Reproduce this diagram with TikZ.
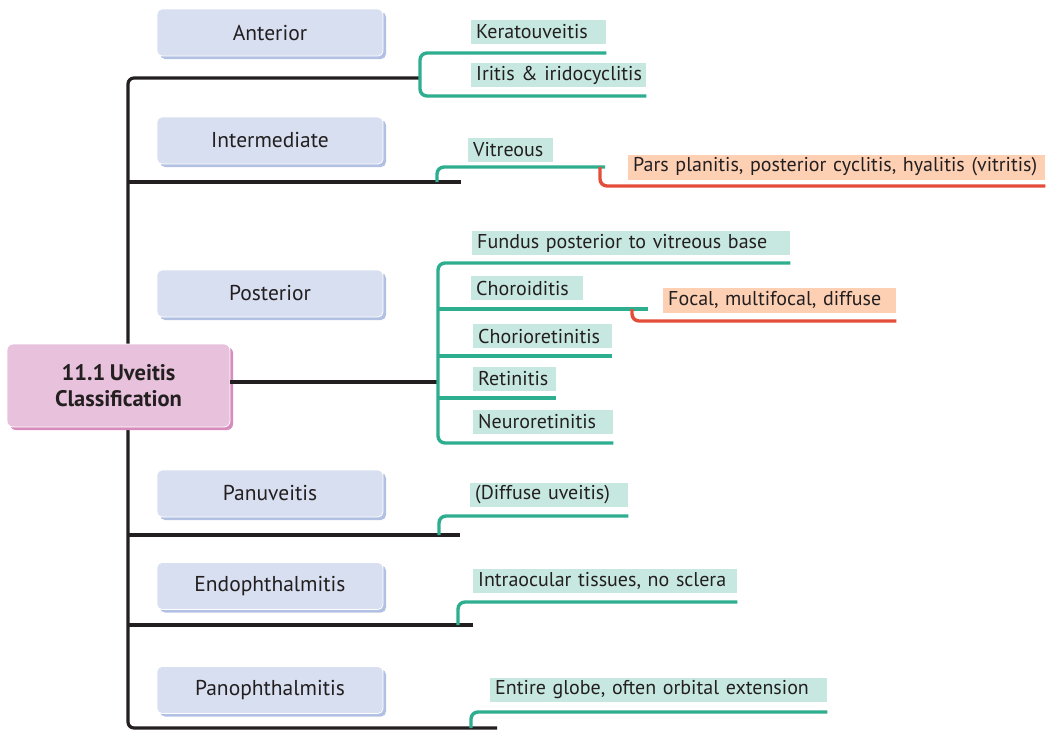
\documentclass[tikz,border=0pt]{standalone}
\usepackage{fontspec}
\setmainfont[WordSpace=0.8]{PT Sans}
\usetikzlibrary{shadows,calc}
\definecolor{ink}{HTML}{231F20}
\definecolor{teal}{HTML}{2DAE8E}
\definecolor{labfill}{HTML}{C7E8E0}
\definecolor{redl}{HTML}{E44D3A}
\definecolor{peach}{HTML}{FDD0B4}
\definecolor{catfill}{HTML}{D7DFF0}
\definecolor{catshadow}{HTML}{B2C1E3}
\definecolor{mainfill}{HTML}{E8C2DC}
\definecolor{mainshadow}{HTML}{D98BBD}
\tikzset{
  txt/.style={font=\fontsize{20}{23}\selectfont, text=ink},
  catbox/.style={font=\fontsize{21.5}{24}\selectfont, text=ink, rounded corners=5pt, fill=catfill, draw=white, line width=0.8pt,
    minimum width=226pt, minimum height=47pt, inner sep=0pt,
    general shadow={fill=catshadow, draw=none, shadow xshift=3pt, shadow yshift=-3pt}},
  mainbox/.style={text=ink, font=\fontsize{22.5}{26}\selectfont\bfseries, rounded corners=6pt, fill=mainfill, draw=white, line width=0.8pt,
    minimum width=223pt, minimum height=83pt, inner sep=0pt, align=center,
    general shadow={fill=mainshadow, draw=none, shadow xshift=3pt, shadow yshift=-3pt}},
  lab/.style={txt, fill=labfill, inner xsep=5pt, inner ysep=0pt, minimum height=24pt,
    anchor=west, align=left, text width=#1},
  sub/.style={txt, fill=peach, inner xsep=5pt, inner ysep=0pt, minimum height=25pt,
    anchor=west, align=left, text width=#1},
  blk/.style={draw=ink, line width=3.2pt, rounded corners=6pt},
  tl/.style={draw=teal, line width=3.4pt, rounded corners=7pt},
  rl/.style={draw=redl, line width=3.4pt, rounded corners=7pt},
}
\begin{document}
\begin{tikzpicture}[x=1pt,y=-1pt]
\useasboundingbox (0,0) rectangle (1051,731);

% category boxes
\node[catbox] (ant) at (270,32.5) {Anterior};
\node[catbox] (int) at (270,140.5) {Intermediate};
\node[catbox] (pos) at (270,293.5) {Posterior};
\node[catbox] (pan) at (270,493.5) {Panuveitis};
\node[catbox] (endo) at (270,586) {Endophthalmitis};
\node[catbox] (pano) at (270,690) {Panophthalmitis};

% labels
\node[lab=125pt] (ker) at (471,31.5) {\mbox{Keratouveitis}};
\node[lab=165pt] (iri) at (471,75) {\mbox{Iritis \& iridocyclitis}};
\node[lab=75pt] (vit) at (468,149.5) {\mbox{Vitreous}};
\node[sub=407pt] (par) at (628,167) {\mbox{Pars planitis, posterior cyclitis, hyalitis (vitritis)}};
\node[lab=308pt] (fun) at (472,243) {\mbox{Fundus posterior to vitreous base}};
\node[lab=102pt] (cho) at (471,288) {\mbox{Choroiditis}};
\node[sub=223pt] (foc) at (663,300) {\mbox{Focal, multifocal, diffuse}};
\node[lab=129pt] (chr) at (473,336) {\mbox{Chorioretinitis}};
\node[lab=73pt] (ret) at (473,379) {\mbox{Retinitis}};
\node[lab=130pt] (neu) at (473,422) {\mbox{Neuroretinitis}};
\node[lab=148pt] (dif) at (470,495) {\mbox{(Diffuse uveitis)}};
\node[lab=254pt] (intra) at (473,581) {\mbox{Intraocular tissues, no sclera}};
\node[lab=327pt] (ent) at (490,689.5) {\mbox{Entire globe, often orbital extension}};

% bracket coordinates
\coordinate (spT) at (128,78);
\coordinate (spB) at (128,728);
\coordinate (aJ) at (420,78);
\coordinate (bEnd) at (497,728);
\coordinate (iEnd) at (461,182);
\coordinate (pJ) at (438,382);
\coordinate (paEnd) at (460,535);
\coordinate (enEnd) at (473,625);

% main spine
\draw[blk] (aJ) -- (spT) -- (spB) -- (bEnd);
\draw[blk] (spT |- iEnd) -- (iEnd);
\draw[blk] (spT |- paEnd) -- (paEnd);
\draw[blk] (spT |- enEnd) -- (enEnd);

% main node
\node[mainbox] (main) at (118.5,385.5) {11.1 Uveitis\\Classification};
\draw[blk] (main.east |- pJ) -- (pJ);

% anterior bracket
\draw[tl] (ker.east |- 0,53) -- (420,53) -- (420,96) -- (iri.east |- 0,96);
% intermediate
\draw[tl] (437,182) -- (437,167) -- (605,167);
\draw[rl] (600,167) -- (600,186) -- (par.east |- 0,186);
% posterior
\draw[tl] (fun.east |- 0,263) -- (pJ |- 0,263) -- (pJ |- 0,443) -- (neu.east |- 0,443);
\draw[draw=teal, line width=3.4pt] (pJ |- 0,309) -- (648,309);
\draw[draw=teal, line width=3.4pt] (pJ |- 0,356) -- (chr.east |- 0,356);
\draw[draw=teal, line width=3.4pt] (pJ |- 0,398) -- (ret.east |- 0,398);
\draw[rl] (632,309) -- (632,321) -- (foc.east |- 0,321);
% panuveitis
\draw[tl] (439,535) -- (439,516) -- (dif.east |- 0,516);
% endophthalmitis
\draw[tl] (458,625) -- (458,602) -- (intra.east |- 0,602);
% panophthalmitis
\draw[tl] (471,728) -- (471,712) -- (ent.east |- 0,712);
\end{tikzpicture}
\end{document}
